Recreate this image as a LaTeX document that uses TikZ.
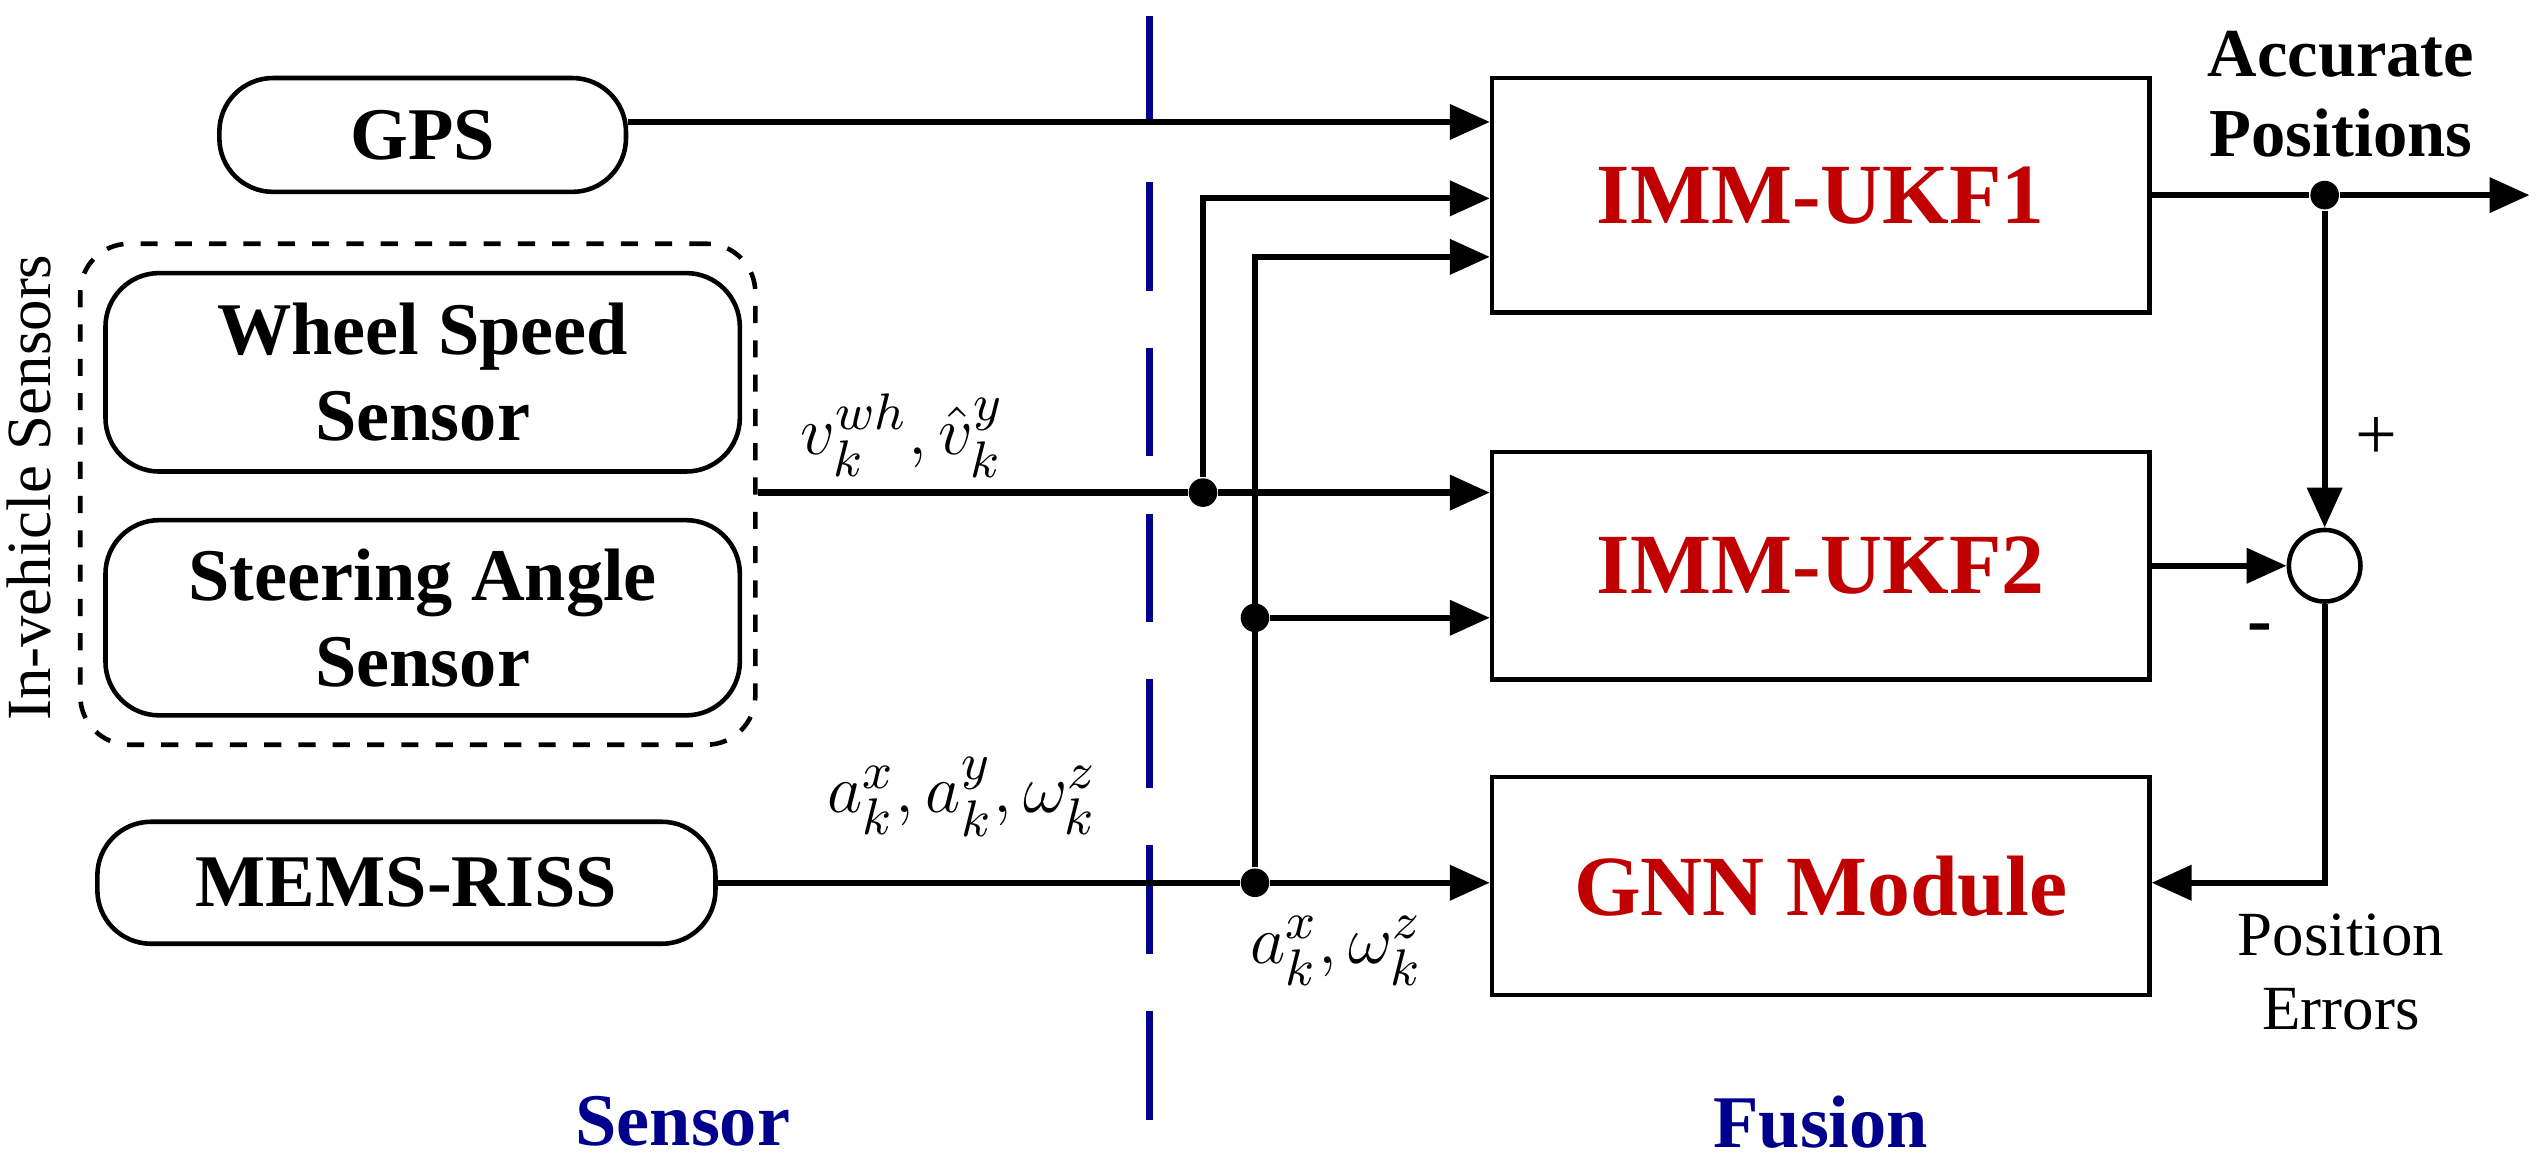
\documentclass[tikz,border=0pt]{standalone}
\usepackage{amsmath}
\usepackage{fontspec}
\setmainfont{Liberation Serif}
\usetikzlibrary{arrows.meta, positioning}
\definecolor{fred}{RGB}{192,0,0}
\definecolor{sblue}{RGB}{0,0,140}
\begin{document}
\begin{tikzpicture}[x=0.01cm, y=-0.01cm,
            sensor/.style={draw, rounded corners=0.33cm, line width=0.8pt, font=\bfseries\fontsize{13}{15}\selectfont, align=center},
            block/.style={draw, line width=0.8pt, minimum width=4.04cm, font=\bfseries\fontsize{15}{17}\selectfont, text=fred},
            arrow/.style={-{Triangle[length=7pt,width=6pt]}, line width=1.1pt},
            line/.style={line width=1.1pt},
            dot/.style={circle, fill=black, inner sep=0pt, minimum size=5pt}
        ]
        \useasboundingbox (0,0) rectangle (1560,720);
        % Sensors
        \node (gps) [sensor, minimum width=2.5cm, minimum height=0.7cm] at (260,83) {GPS};
        \node (wss) [sensor, minimum width=3.9cm, minimum height=1.22cm] at (260,229) {Wheel Speed\\Sensor};
        \node (sas) [sensor, minimum width=3.9cm, minimum height=1.2cm] at (260,380) {Steering Angle\\Sensor};
        \node (mems) [sensor, minimum width=3.8cm, minimum height=0.75cm] at (250,543) {MEMS-RISS};
        \node (veh) [draw, dashed, rounded corners=0.3cm, line width=0.8pt, minimum width=4.15cm, minimum height=3.08cm] at (257,304) {};
        \node [rotate=90, font=\fontsize{11}{13}\selectfont] at (18,300) {In-vehicle Sensors};

        % Divider
        \coordinate (top) at (707,10);
        \coordinate (bot) at (707,690);
        \draw [sblue, line width=1.3pt, dash pattern=on 19pt off 10pt] (top) -- (bot);
        \node [text=sblue, font=\bfseries\fontsize{13}{15}\selectfont] at (420,690) {Sensor};
        \node [text=sblue, font=\bfseries\fontsize{13}{15}\selectfont] at (1120,690) {Fusion};

        % Fusion blocks
        \node (ukf1) [block, minimum height=1.44cm] at (1120,120) {IMM-UKF1};
        \node (ukf2) [block, minimum height=1.4cm] at (1120,348) {IMM-UKF2};
        \node (gnn) [block, minimum height=1.34cm] at (1120,545) {GNN Module};
        \node (sum) [circle, draw, line width=0.8pt, minimum size=0.44cm, inner sep=0pt] at (1430,348) {};

        % Junctions
        \node (j1) [dot] at (740,303) {};
        \node (j2) [dot] at (772,380) {};
        \node (j3) [dot] at (772,543) {};
        \node (j4) [dot] at (1430,120) {};
        \coordinate (out) at (1556,120);

        \draw [arrow] (gps.east |- 0,75) -- (ukf1.west |- 0,75);
        \draw [line] (veh.east |- j1) -- (j1);
        \draw [arrow] (j1) -- (ukf2.west |- j1);
        \draw [arrow] (j1) |- (ukf1.west |- 0,122);
        \draw [line] (mems) -- (j3);
        \draw [arrow] (j3) -- (gnn.west |- j3);
        \draw [arrow] (j3) |- (ukf1.west |- 0,158);
        \draw [arrow] (j2) -- (ukf2.west |- j2);
        \draw [line] (ukf1.east |- j4) -- (j4);
        \draw [arrow] (j4) -- (out);
        \draw [arrow] (j4) -- (sum);
        \draw [arrow] (ukf2) -- (sum);
        \draw [arrow] (sum) |- (gnn.east |- j3);

        % Labels
        \node [font=\fontsize{13}{15}\selectfont] at (555,268) {$v_k^{wh},\hat{v}_k^{y}$};
        \node [font=\fontsize{13}{15}\selectfont] at (592,490) {$a_k^{x},a_k^{y},\omega_k^{z}$};
        \node [font=\fontsize{13}{15}\selectfont] at (822,585) {$a_k^{x},\omega_k^{z}$};
        \node [font=\bfseries\fontsize{12}{14}\selectfont, align=center] at (1440,58) {Accurate\\Positions};
        \node [font=\fontsize{11}{13}\selectfont, align=center] at (1440,598) {Position\\Errors};
        \node [font=\fontsize{13}{15}\selectfont] at (1462,270) {+};
        \node [font=\bfseries\fontsize{13}{15}\selectfont] at (1390,390) {-};
\end{tikzpicture}
\end{document}
